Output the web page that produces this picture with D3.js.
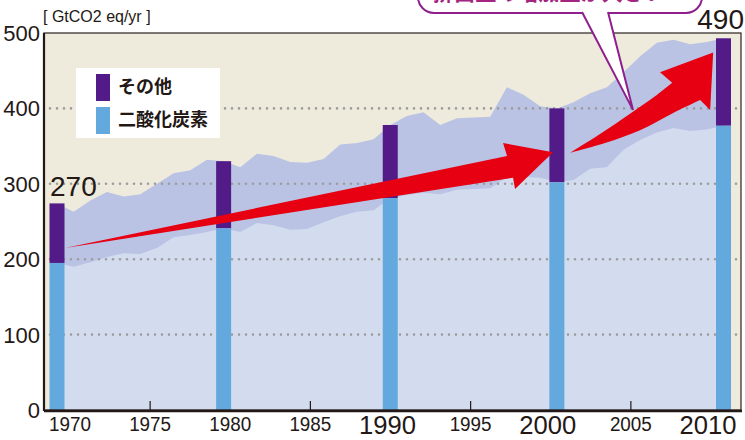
<!DOCTYPE html>
<html>
<head>
<meta charset="utf-8">
<script src="https://cdn.jsdelivr.net/npm/d3@7"></script>
<style>
  body { margin: 0; background: #fff; }
  svg { display: block; font-family: "Liberation Sans", Arial, sans-serif; }
</style>
</head>
<body>
<script>
// annual emissions, GtCO2 eq/yr
var years = d3.range(1970, 2011);
var total = [274, 263, 278, 289, 283, 286, 300, 314, 318, 332,
             330, 322, 340, 337, 329, 328, 333, 352, 354, 359,
             378, 390, 395, 378, 387, 388, 389, 428, 418, 403,
             400, 408, 420, 428, 448, 469, 487, 491, 485, 488, 493];
var co2 = [195, 190, 196, 203, 208, 207, 215, 229, 232, 236,
           241, 236, 248, 245, 239, 240, 249, 257, 263, 265,
           281, 285, 288, 286, 292, 293, 294, 309, 309, 308,
           302, 305, 320, 322, 345, 358, 368, 374, 370, 372, 377];
var barYears = [1970, 1980, 1990, 2000, 2010];
var yTicks = [0, 100, 200, 300, 400, 500];
var xTicks = [1970, 1975, 1980, 1985, 1990, 1995, 2000, 2005, 2010];
var bigTicks = [1990, 2000, 2010];
var legendLabels = ["その他", "二酸化炭素"];
var bubbleText = "排出量の増加量が大きい";

// arrows, in [year, value]
var arrow1 = [[1970.48, 215], [1997.01, 337], [1996.77, 354], [1999.77, 342],
              [1997.49, 293], [1997.37, 308]];
var arrow2Top = [[2000.79, 341], [2002.59, 366], [2004.39, 393], [2005.89, 416], [2006.92, 434]];
var arrow2Head = [[2006.19, 448], [2009.38, 474], [2009.20, 398]];
var arrow2Bot = [[2008.60, 411], [2006.98, 394], [2004.99, 371], [2002.89, 354], [2000.79, 341]];
var pointerTip = [2004.57, 398];

var W = 745, H = 440;
var pLeft = 44, pTop = 33, pRight = 741, pBottom = 410;

var colOther = "#531b88", colCo2 = "#64a9dd";

var svg = d3.select("body").append("svg")
    .attr("width", W).attr("height", H);

var y = d3.scaleLinear().domain([0, 500]).range([pBottom, pTop]);
var xb = d3.scaleLinear().domain([1970, 2010]).range([57, 723.5]);   // bars / areas
var xa = d3.scaleLinear().domain([1970, 2010]).range([70, 711]);     // axis labels

// background
svg.append("rect")
    .attr("x", pLeft).attr("y", pTop)
    .attr("width", pRight - pLeft).attr("height", pBottom - pTop)
    .attr("fill", "#eeebdc");

var rows = years.map(function(yr, i) { return {year: yr, total: total[i], co2: co2[i]}; });

svg.append("path")
    .datum(rows)
    .attr("fill", "#bac3e4")
    .attr("d", d3.area().x(function(d) { return xb(d.year); })
        .y0(y(0)).y1(function(d) { return y(d.total); }));

svg.append("path")
    .datum(rows)
    .attr("fill", "#d3dcef")
    .attr("d", d3.area().x(function(d) { return xb(d.year); })
        .y0(y(0)).y1(function(d) { return y(d.co2); }));

// dotted grid
svg.append("g").selectAll("line")
    .data([100, 200, 300, 400])
    .join("line")
    .attr("x1", pLeft + 6).attr("x2", pRight)
    .attr("y1", function(d) { return y(d); })
    .attr("y2", function(d) { return y(d); })
    .attr("stroke", "#9c9c9c")
    .attr("stroke-width", 2.6)
    .attr("stroke-linecap", "round")
    .attr("stroke-dasharray", "0,7");

// bars
var bars = rows.filter(function(d) { return barYears.indexOf(d.year) >= 0; });
var bw = 15;
var gb = svg.append("g");
gb.selectAll("rect.other").data(bars).join("rect")
    .attr("class", "other")
    .attr("x", function(d) { return xb(d.year) - bw / 2; })
    .attr("width", bw)
    .attr("y", function(d) { return y(d.total); })
    .attr("height", function(d) { return y(d.co2) - y(d.total); })
    .attr("fill", colOther);
gb.selectAll("rect.co2").data(bars).join("rect")
    .attr("class", "co2")
    .attr("x", function(d) { return xb(d.year) - bw / 2; })
    .attr("width", bw)
    .attr("y", function(d) { return y(d.co2); })
    .attr("height", function(d) { return y(0) - y(d.co2); })
    .attr("fill", colCo2);

// red arrows
var px = function(p) { return [xb(p[0]), y(p[1])]; };
svg.append("path")
    .attr("d", d3.line()(arrow1.map(px)) + "Z")
    .attr("fill", "#e60012");

var curve = d3.line().curve(d3.curveCatmullRom);
var a2 = curve(arrow2Top.map(px)) +
    "L" + arrow2Head.map(function(p) { return px(p).join(","); }).join("L") +
    "L" + curve(arrow2Bot.map(px)).slice(1) + "Z";
svg.append("path").attr("d", a2).attr("fill", "#e60012");

// frame
svg.append("rect")
    .attr("x", pLeft).attr("y", pTop)
    .attr("width", pRight - pLeft).attr("height", pBottom - pTop)
    .attr("fill", "none").attr("stroke", "#2b2220").attr("stroke-width", 1.2);
svg.append("line")
    .attr("x1", pLeft).attr("x2", pLeft).attr("y1", pTop).attr("y2", pBottom + 1)
    .attr("stroke", "#231815").attr("stroke-width", 2.2);
svg.append("line")
    .attr("x1", pLeft).attr("x2", pRight + 1).attr("y1", pBottom + 1).attr("y2", pBottom + 1)
    .attr("stroke", "#231815").attr("stroke-width", 2.4);

// x ticks (5-year ones only, pointing up)
svg.append("g").selectAll("line")
    .data(xTicks.filter(function(d) { return d % 10 === 5; }))
    .join("line")
    .attr("x1", function(d) { return xa(d); })
    .attr("x2", function(d) { return xa(d); })
    .attr("y1", pBottom).attr("y2", pBottom - 9)
    .attr("stroke", "#231815").attr("stroke-width", 1.2);

// x labels
svg.append("g").selectAll("text")
    .data(xTicks)
    .join("text")
    .attr("x", function(d) { return xa(d) - (bigTicks.indexOf(d) >= 0 ? 3 : 0); })
    .attr("y", function(d) { return bigTicks.indexOf(d) >= 0 ? 434 : 431; })
    .attr("text-anchor", "middle")
    .attr("font-size", function(d) { return bigTicks.indexOf(d) >= 0 ? 25 : 20; })
    .attr("textLength", function(d) { return bigTicks.indexOf(d) >= 0 ? 57 : 42; })
    .attr("lengthAdjust", "spacingAndGlyphs")
    .attr("fill", "#231815")
    .text(function(d) { return d; });

// y labels
svg.append("g").selectAll("text")
    .data(yTicks)
    .join("text")
    .attr("x", 40)
    .attr("y", function(d) { return y(d); })
    .attr("dy", "0.36em")
    .attr("text-anchor", "end")
    .attr("font-size", 22)
    .attr("fill", "#231815")
    .text(function(d) { return d; });

svg.append("text")
    .attr("x", 43).attr("y", 22)
    .attr("font-size", 16)
    .attr("fill", "#231815")
    .text("[ GtCO2 eq/yr ]");

// value callouts
svg.append("text")
    .attr("x", xb(1970) - 7).attr("y", y(total[0]) - 7)
    .attr("font-size", 28).attr("fill", "#231815")
    .text("270");
svg.append("text")
    .attr("x", W - 1).attr("y", 29)
    .attr("text-anchor", "end")
    .attr("font-size", 28).attr("fill", "#231815")
    .text("490");

// legend
var lg = svg.append("g").attr("transform", "translate(76,68)");
lg.append("rect").attr("width", 144).attr("height", 70).attr("fill", "#fff");
lg.selectAll("rect.sw").data([colOther, colCo2]).join("rect")
    .attr("class", "sw")
    .attr("x", 20).attr("y", function(d, i) { return 6 + i * 33; })
    .attr("width", 14).attr("height", 27)
    .attr("fill", function(d) { return d; });
lg.selectAll("text").data(legendLabels).join("text")
    .attr("x", 42).attr("y", function(d, i) { return 25 + i * 33; })
    .attr("font-family", "'Noto Sans CJK JP', sans-serif")
    .attr("font-weight", 700)
    .attr("font-size", 18)
    .attr("fill", "#231815")
    .text(function(d) { return d; });

// speech bubble (top clipped by the page)
var bub = svg.append("g");
bub.append("rect")
    .attr("x", 418).attr("y", -40).attr("width", 284).attr("height", 53).attr("rx", 16)
    .attr("fill", "#fff").attr("stroke", "#8e1f8c").attr("stroke-width", 2);
var tip = px(pointerTip);
bub.append("path")
    .attr("d", "M582,11L" + tip.join(",") + "L608,11Z")
    .attr("fill", "#fff");
bub.append("path")
    .attr("d", "M582,12L" + tip.join(",") + "L608,12")
    .attr("fill", "none").attr("stroke", "#8e1f8c").attr("stroke-width", 2);
bub.append("text")
    .attr("x", 433).attr("y", 0)
    .attr("font-family", "'Noto Sans CJK JP', sans-serif")
    .attr("font-weight", 700)
    .attr("font-size", 22)
    .attr("textLength", 232).attr("lengthAdjust", "spacingAndGlyphs")
    .attr("fill", "#a3257f")
    .text(bubbleText);
</script>
</body>
</html>
